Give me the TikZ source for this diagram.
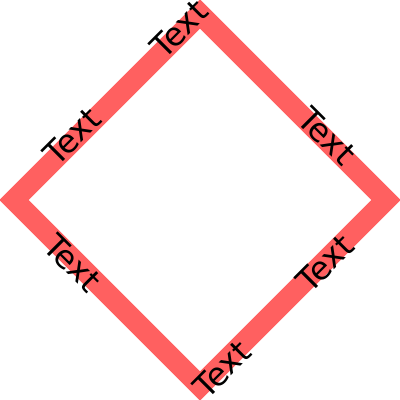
\documentclass[tikz,border=0pt]{standalone}
\usepackage{fontspec}
\setmainfont{DejaVu Sans}
\definecolor{rimred}{RGB}{255,96,96}
\tikzset{
  rim/.style={draw=rimred,line width=0.52cm,line join=miter},
  edgelabel/.style={font=\fontsize{23}{27}\selectfont,inner sep=0pt}
}
\begin{document}
\begin{tikzpicture}[x=0.025cm,y=-0.025cm]
    \useasboundingbox (0,0) rectangle (400,400);
    % ---- the diamond ----
    \coordinate (left) at (14,200);
    \coordinate (top) at (200,14);
    \coordinate (right) at (386,200);
    \coordinate (bottom) at (200,386);
    \draw[rim] (left) -- (top) -- (right) -- (bottom) -- cycle;
    % ---- labels along the edges ----
    \node[edgelabel,rotate=45] (tlhigh) at (179,29) {Text};
    \node[edgelabel,rotate=45] (tllow) at (72,136) {Text};
    \node[edgelabel,rotate=-45] (tr) at (327,136) {Text};
    \node[edgelabel,rotate=45] (brhigh) at (325,263) {Text};
    \node[edgelabel,rotate=45] (brlow) at (222,369) {Text};
    \node[edgelabel,rotate=-45] (bl) at (73,263) {Text};
\end{tikzpicture}
\end{document}
